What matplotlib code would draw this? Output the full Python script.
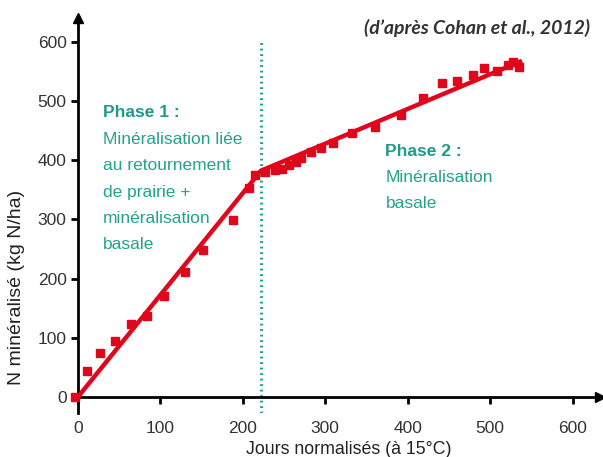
import matplotlib.pyplot as plt
import numpy as np

# données (Cohan et al., 2012)
jours = [-3, 11, 27, 45, 64, 84, 105, 130, 152, 188, 207, 215,
         227, 239, 247, 256, 264, 271, 283, 295, 309, 333, 360, 392,
         419, 441, 460, 479, 493, 508, 521, 528, 535]
n_min = [0, 44, 74, 94, 124, 137, 170, 211, 248, 299, 353, 375,
         380, 383, 385, 391, 397, 403, 413, 421, 429, 446, 456, 476,
         505, 530, 534, 544, 555, 550, 560, 565, 557]

# droites d'ajustement des deux phases
fit_x = [0, 222, 536]
fit_y = [0, 382, 566]
rupture = 222

xticks = [0, 100, 200, 300, 400, 500, 600]
yticks = [0, 100, 200, 300, 400, 500, 600]

rouge = "#e0061c"
teal = "#22a38c"
teal_fonce = "#1f9a88"

plt.rcParams['font.family'] = ['Liberation Sans', 'DejaVu Sans']

fig = plt.figure(figsize=(6.03, 4.57), dpi=100)
ax = fig.add_axes([0.129, 0.096, 0.866, 0.865])

ax.set_xlim(0, 633)
ax.set_ylim(-27, 640)

ax.plot([rupture, rupture], [-27, 603], linestyle=(0, (0.6, 1.2)), color=teal, lw=2.2, zorder=1)
ax.plot(fit_x, fit_y, color=rouge, lw=3.2, zorder=3)
ax.plot(jours, n_min, 's', color=rouge, markersize=6.3, zorder=4, clip_on=False)

for s in ['top', 'right']:
    ax.spines[s].set_visible(False)
ax.spines['bottom'].set_position(('data', 0))
ax.spines['bottom'].set_linewidth(2)
ax.spines['left'].set_linewidth(2)
ax.plot(1, 0, '>k', markersize=7, transform=ax.get_yaxis_transform(), clip_on=False)
ax.plot(0, 1, '^k', markersize=7, transform=ax.get_xaxis_transform(), clip_on=False)

ax.set_xticks(xticks)
ax.set_yticks(yticks)
ax.tick_params(axis='both', direction='out', length=5, width=2, labelsize=12.5,
               labelcolor='#333333', pad=3)
ax.tick_params(axis='x', pad=12)

fig.text(0.578, 0.016, "Jours normalisés (à 15°C)", ha='center', va='center',
         fontsize=12.8, color='#222222')
fig.text(0.028, 0.37, "N minéralisé (kg N/ha)", rotation=90, ha='center', va='center',
         fontsize=14, color='#222222')
fig.text(0.978, 0.938, "(d’après Cohan et al., 2012)", ha='right', va='center',
         fontsize=14, style='italic', fontweight='bold', family='Lato', color='#333333')

ax.text(30, 480, "Phase 1 :", fontsize=12.5, fontweight='bold', color=teal_fonce, va='center')
lignes1 = ["Minéralisation liée", "au retournement", "de prairie +",
           "minéralisation", "basale"]
for i, t in enumerate(lignes1):
    ax.text(30, 434 - i * 44, t, fontsize=12.5, color=teal, va='center')

ax.text(373, 414, "Phase 2 :", fontsize=12.5, fontweight='bold', color=teal_fonce, va='center')
for i, t in enumerate(["Minéralisation", "basale"]):
    ax.text(373, 370 - i * 42.5, t, fontsize=12.5, color=teal, va='center')

fig.savefig("out.png", dpi=100)
